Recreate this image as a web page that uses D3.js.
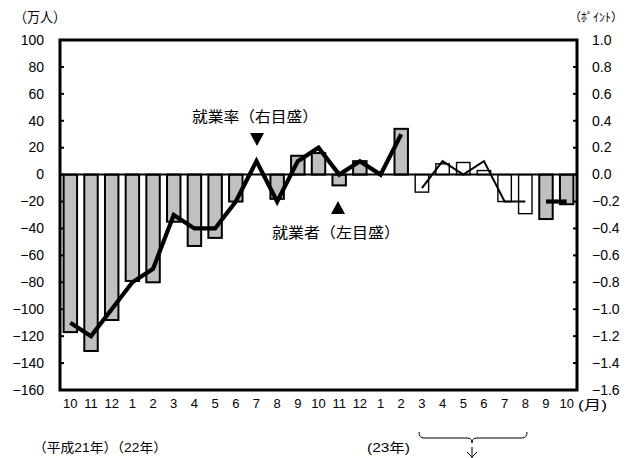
<!DOCTYPE html>
<html>
<head>
<meta charset="utf-8">
<script src="https://cdn.jsdelivr.net/npm/d3@7"></script>
<style>
  body { margin: 0; background: #fff; }
  svg { display: block; }
  text { font-family: "Liberation Sans", "Noto Sans CJK JP", sans-serif; fill: #000; }
</style>
</head>
<body>
<svg id="chart" width="627" height="458"></svg>
<script>
// months Oct 2009 .. Oct 2011
var months = ['10','11','12','1','2','3','4','5','6','7','8','9','10','11','12','1','2','3','4','5','6','7','8','9','10']
// employed persons, change from previous year (万人, left axis)
var employed = [-117,-131,-108,-79,-80,-35,-53,-47,-20,0,-18,14,16,-8,10,0,34,-13,8,9,3,-20,-29,-33,-22]
// employment rate, change from previous year (points, right axis)
var rate = [-1.1,-1.2,-1.0,-0.8,-0.7,-0.3,-0.4,-0.4,-0.2,0.1,-0.2,0.1,0.2,0.0,0.1,0.0,0.3,-0.1,0.1,0.0,0.1,-0.2,-0.2,-0.2,-0.2]
// months Mar-Aug 2011 are supplementary estimates (white bars, thin line)
var estimated = [0,0,0,0,0,0,0,0,0,0,0,0,0,0,0,0,0,1,1,1,1,1,1,0,0]
var leftTicks = [100,80,60,40,20,0,-20,-40,-60,-80,-100,-120,-140,-160]
var rightTicks = [1.0,0.8,0.6,0.4,0.2,0.0,-0.2,-0.4,-0.6,-0.8,-1.0,-1.2,-1.4,-1.6]

var svg = d3.select('#chart')
var L = 60, R = 577, T = 40, B = 390

var x = d3.scaleBand().domain(d3.range(months.length)).range([L, R])
  .paddingInner(0.35).paddingOuter(0.175)
var yL = d3.scaleLinear().domain([-160, 100]).range([B, T])
var yR = d3.scaleLinear().domain([-1.6, 1.0]).range([B, T])

function minus(s) { return s.replace('-', '\u2212') }

// bars
svg.append('g').selectAll('rect')
  .data(employed)
  .enter().append('rect')
  .attr('x', function (d, i) { return x(i) })
  .attr('width', x.bandwidth())
  .attr('y', function (d) { return yL(Math.max(0, d)) })
  .attr('height', function (d) { return Math.abs(yL(d) - yL(0)) })
  .attr('fill', function (d, i) { return estimated[i] ? '#fff' : '#c0c0c0' })
  .attr('stroke', '#000')
  .attr('stroke-width', function (d, i) { return estimated[i] ? 1.4 : 2 })

// zero line
svg.append('line')
  .attr('x1', L).attr('x2', R).attr('y1', yL(0)).attr('y2', yL(0))
  .attr('stroke', '#000').attr('stroke-width', 2)

// rate line, split in segments
var line = d3.line()
  .x(function (d) { return x(d.i) + x.bandwidth() / 2 })
  .y(function (d) { return yR(d.v) })
var pts = rate.map(function (v, i) { return { i: i, v: v } })
var segs = [
  { data: pts.slice(0, 17), w: 4.2 },
  { data: pts.slice(17, 23), w: 2 },
  { data: pts.slice(23, 25), w: 4.2 }
]
segs.forEach(function (s) {
  svg.append('path').attr('d', line(s.data))
    .attr('fill', 'none').attr('stroke', '#000')
    .attr('stroke-width', s.w).attr('stroke-linejoin', 'miter')
})

// frame
svg.append('rect').attr('x', L).attr('y', T).attr('width', R - L).attr('height', B - T)
  .attr('fill', 'none').attr('stroke', '#000').attr('stroke-width', 3)

// left axis ticks + labels
var gl = svg.append('g')
leftTicks.forEach(function (t) {
  gl.append('line').attr('x1', L).attr('x2', L + 4).attr('y1', yL(t)).attr('y2', yL(t))
    .attr('stroke', '#000').attr('stroke-width', 2)
  gl.append('text').attr('x', 44).attr('y', yL(t)).attr('dy', '0.34em')
    .attr('text-anchor', 'end').attr('font-size', 14).text(minus(String(t)))
})
// right axis ticks + labels
var gr = svg.append('g')
rightTicks.forEach(function (t) {
  gr.append('line').attr('x1', R - 4).attr('x2', R).attr('y1', yR(t)).attr('y2', yR(t))
    .attr('stroke', '#000').attr('stroke-width', 2)
  gr.append('text').attr('x', 592).attr('y', yR(t)).attr('dy', '0.34em')
    .attr('font-size', 14).text(minus(t.toFixed(1)))
})

// month labels
svg.append('g').selectAll('text')
  .data(months)
  .enter().append('text')
  .attr('x', function (d, i) { return x(i) + x.bandwidth() / 2 })
  .attr('y', 408)
  .attr('text-anchor', 'middle').attr('font-size', 13)
  .attr('font-family', '"Liberation Sans Narrow", "Liberation Sans", sans-serif')
  .text(function (d) { return d })
svg.append('text').attr('x', 578).attr('y', 409).attr('font-size', 13)
  .attr('textLength', 29).attr('lengthAdjust', 'spacingAndGlyphs').text('(月)')

// unit labels
svg.append('text').attr('x', 14).attr('y', 22).attr('font-size', 14)
  .attr('textLength', 52).attr('lengthAdjust', 'spacingAndGlyphs').text('（万人）')
svg.append('text').attr('x', 569).attr('y', 22).attr('font-size', 12).text('（ﾎﾟｲﾝﾄ）')

// year labels
svg.append('text').attr('x', 33).attr('y', 452).attr('font-size', 13)
  .attr('textLength', 134).attr('lengthAdjust', 'spacingAndGlyphs').text('（平成21年）（22年）')
svg.append('text').attr('x', 367).attr('y', 452).attr('font-size', 13)
  .attr('textLength', 43).attr('lengthAdjust', 'spacingAndGlyphs').text('(23年)')

// brace under Mar-Aug 2011
svg.append('path')
  .attr('d', 'M419,432 Q419,438 424,438 L467,438 Q472,438 472,443 Q472,438 477,438 L522,438 Q527,438 527,432')
  .attr('fill', 'none').attr('stroke', '#000').attr('stroke-width', 1)
svg.append('path')
  .attr('d', 'M472,447 L472,458 M467,452 L472,457 L477,452')
  .attr('fill', 'none').attr('stroke', '#000').attr('stroke-width', 1)

// annotations
svg.append('text').attr('x', 192).attr('y', 122).attr('font-size', 15)
  .attr('textLength', 126).attr('lengthAdjust', 'spacingAndGlyphs').text('就業率（右目盛）')
svg.append('text').attr('x', 272).attr('y', 238).attr('font-size', 15)
  .attr('textLength', 128).attr('lengthAdjust', 'spacingAndGlyphs').text('就業者（左目盛）')
svg.append('path').attr('d', 'M250,133 L264,133 L257,146 Z').attr('fill', '#000')
svg.append('path').attr('d', 'M331,214 L345,214 L338,201 Z').attr('fill', '#000')
</script>
</body>
</html>
